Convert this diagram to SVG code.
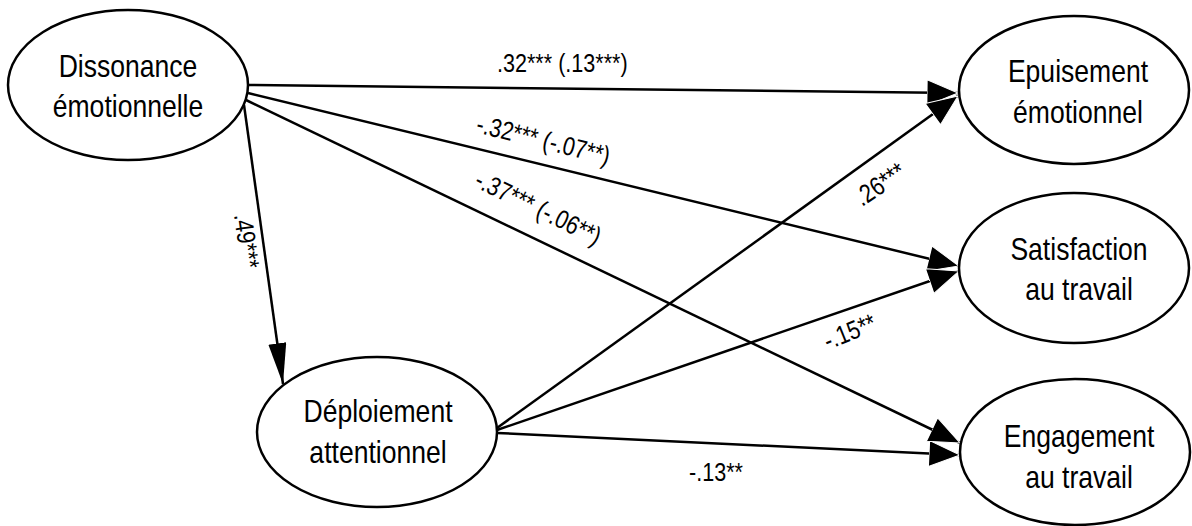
<svg xmlns="http://www.w3.org/2000/svg" width="1192" height="526" viewBox="0 0 1192 526">
<style>
.node ellipse{fill:#fff;stroke:#000;stroke-width:2.5}
.nt{font-family:"Liberation Sans",Arial,sans-serif;font-size:32px;fill:#000;text-anchor:middle}
.edge{fill:none;stroke:#000;stroke-width:2.5}
.lbl{font-family:"Liberation Sans",Arial,sans-serif;font-size:26px;fill:#000}
</style>
<defs>
<marker id="ah" markerUnits="userSpaceOnUse" markerWidth="34" markerHeight="28" refX="31" refY="13" orient="auto">
<path d="M0,0 L31,13 L0,26 z" fill="#000" stroke="#fff" stroke-width="1"/>
</marker>
<marker id="ahv" markerUnits="userSpaceOnUse" markerWidth="44" markerHeight="20" refX="41" refY="9" orient="auto">
<path d="M0,0 L41,9 L0,18 z" fill="#000"/>
</marker>
</defs>
<rect width="1192" height="526" fill="#fff"/>
<g id="connectors">
<path class="edge" d="M248,85 L958,93" marker-end="url(#ah)"/>
<path class="edge" d="M248,93 L959,266" marker-end="url(#ah)"/>
<path class="edge" d="M246,100 L960,443" marker-end="url(#ah)"/>
<path class="edge" d="M244,105 L283,384" marker-end="url(#ahv)"/>
<path class="edge" d="M497,428 L958,96" marker-end="url(#ah)"/>
<path class="edge" d="M497,430 L959,271" marker-end="url(#ah)"/>
<path class="edge" d="M497,433 L960,455" marker-end="url(#ah)"/>
<text class="lbl" transform="translate(497,72) scale(0.83,1)">.32*** (.13***)</text>
<text class="lbl" transform="translate(475,132) rotate(14) scale(0.83,1)">-.32*** (-.07**)</text>
<text class="lbl" transform="translate(473,186) rotate(26) scale(0.83,1)">-.37*** (-.06**)</text>
<text class="lbl" transform="translate(234,215) rotate(82) scale(0.83,1)">.49***</text>
<text class="lbl" transform="translate(862,207) rotate(-34) scale(0.83,1)">.26***</text>
<text class="lbl" transform="translate(828,350) rotate(-22) scale(0.83,1)">-.15**</text>
<text class="lbl" transform="translate(689,481) scale(0.83,1)">-.13**</text>
</g>
<g id="dissonance" class="node">
<ellipse cx="128" cy="85" rx="120" ry="75"/>
<text class="nt" transform="translate(128,0) scale(0.83,1)"><tspan x="0" y="77">Dissonance</tspan><tspan x="0" y="117">émotionnelle</tspan></text>
</g>
<g id="deploiement" class="node">
<ellipse cx="377" cy="432" rx="120" ry="75"/>
<text class="nt" transform="translate(378,0) scale(0.83,1)"><tspan x="0" y="422">Déploiement</tspan><tspan x="0" y="463">attentionnel</tspan></text>
</g>
<g id="epuisement" class="node">
<ellipse cx="1074" cy="90" rx="115" ry="74"/>
<text class="nt" transform="translate(1078,0) scale(0.83,1)"><tspan x="0" y="82">Epuisement</tspan><tspan x="0" y="123">émotionnel</tspan></text>
</g>
<g id="satisfaction" class="node">
<ellipse cx="1074" cy="268" rx="115" ry="75"/>
<text class="nt" transform="translate(1079,0) scale(0.83,1)"><tspan x="0" y="260">Satisfaction</tspan><tspan x="0" y="300">au travail</tspan></text>
</g>
<g id="engagement" class="node">
<ellipse cx="1075" cy="452" rx="115" ry="73"/>
<text class="nt" transform="translate(1079,0) scale(0.83,1)"><tspan x="0" y="447">Engagement</tspan><tspan x="0" y="488">au travail</tspan></text>
</g>
</svg>
